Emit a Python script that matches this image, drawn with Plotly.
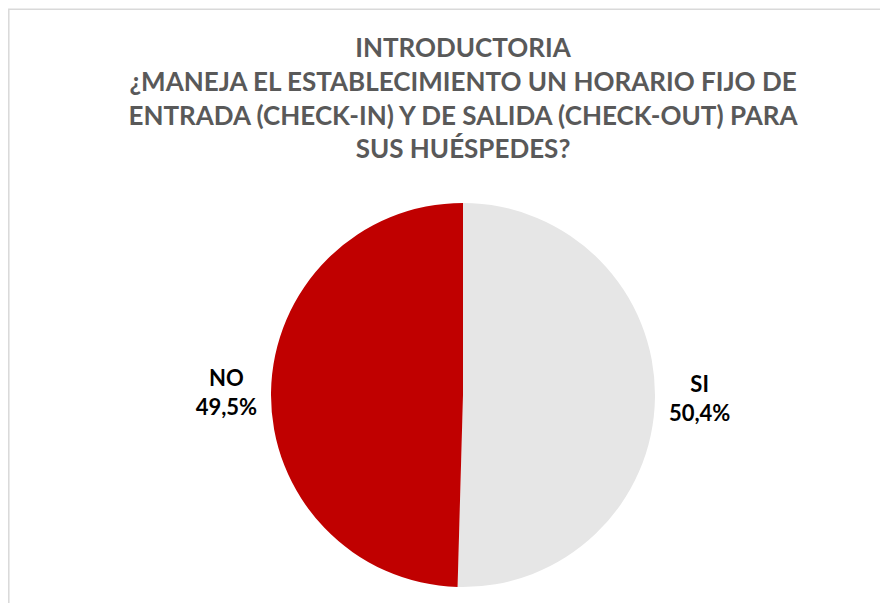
import plotly.graph_objects as go

labels = ["SI", "NO"]
values = [50.4, 49.5]
colors = ["#E6E6E6", "#C00000"]

title_lines = [
    "INTRODUCTORIA",
    "¿MANEJA EL ESTABLECIMIENTO UN HORARIO FIJO DE",
    "ENTRADA (CHECK-IN) Y DE SALIDA (CHECK-OUT) PARA",
    "SUS HUÉSPEDES?",
]

W, H = 888, 603
FONT = "Lato, Open Sans, sans-serif"

fig = go.Figure(go.Pie(
    labels=labels,
    values=values,
    sort=False,
    direction="clockwise",
    rotation=0,
    marker=dict(colors=colors, line=dict(width=0)),
    texttemplate="<b>%{label}</b><br><b>%{value:.1f}%</b>",
    textposition="outside",
    textfont=dict(family=FONT, size=22, color="#000000"),
    domain=dict(x=[263 / W, 647 / W], y=[24 / H, 408 / H]),
    showlegend=False,
    hoverinfo="label+value",
))

fig.update_layout(
    width=W, height=H,
    margin=dict(l=0, r=0, t=0, b=0),
    paper_bgcolor="white",
    separators=",.",
    title=dict(
        text="<b>" + "<br>".join(title_lines) + "</b>",
        x=455 / W, xanchor="center",
        y=1 - 49 / H, yanchor="top",
        font=dict(family=FONT, size=26, color="#595959"),
    ),
    shapes=[dict(type="rect", xref="paper", yref="paper",
                 x0=0.8 / W, x1=1.05, y0=-0.05, y1=1 - 1.3 / H,
                 line=dict(color="#D9D9D9", width=1.5), fillcolor="rgba(0,0,0,0)")],
)

fig.write_html("out.html")
